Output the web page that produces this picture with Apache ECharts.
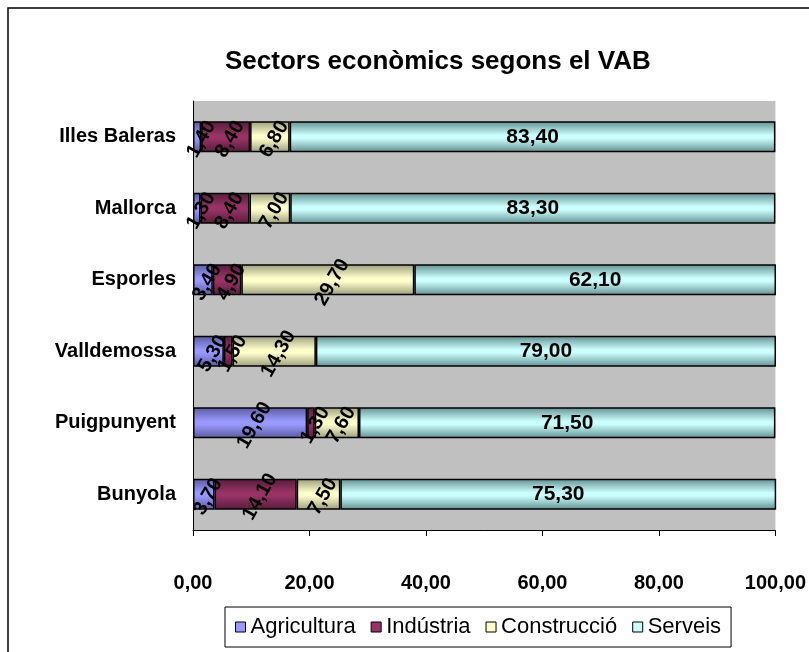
<!DOCTYPE html>
<html>
<head>
<meta charset="utf-8">
<script src="https://cdn.jsdelivr.net/npm/echarts@6/dist/echarts.min.js"></script>
<style>
  html, body { margin: 0; padding: 0; background: #fff; }
  #chart { width: 809px; height: 652px; }
</style>
</head>
<body>
<div id="chart"></div>
<script>
// values (percent of VAB)
var categories = ['Illes Baleras', 'Mallorca', 'Esporles', 'Valldemossa', 'Puigpunyent', 'Bunyola'];
var seriesNames = ['Agricultura', 'Indústria', 'Construcció', 'Serveis'];
var agricultura = [1.4, 1.3, 3.4, 5.3, 19.6, 3.7];
var industria = [8.4, 8.4, 4.9, 1.5, 1.3, 14.1];
var construccio = [6.8, 7.0, 29.7, 14.3, 7.6, 7.5];
var serveis = [83.4, 83.3, 62.1, 79.0, 71.5, 75.3];
var xMin = 0, xMax = 100, xStep = 20;

var FONT = "'Liberation Sans', Arial, sans-serif";

function fmt(v) {
  return Number(v).toFixed(2).replace('.', ',');
}

// excel-ish shading: darker at top and bottom edge of each bar
function cylinder(light, dark) {
  return {
    type: 'linear', x: 0, y: 0, x2: 0, y2: 1,
    colorStops: [
      { offset: 0, color: dark },
      { offset: 0.45, color: light },
      { offset: 0.55, color: light },
      { offset: 1, color: dark }
    ]
  };
}

var baseColors = ['#9999FF', '#993366', '#FFFFCC', '#CCFFFF'];
var darkColors = ['#5a5a9e', '#561c3a', '#9c9c7c', '#628f8f'];
var values = [agricultura, industria, construccio, serveis];

var myChart = echarts.init(document.getElementById('chart'));

var series = values.map(function (data, i) {
  var last = i === values.length - 1;
  return {
    name: seriesNames[i],
    type: 'bar',
    stack: 'total',
    barWidth: 31,
    data: data,
    itemStyle: {
      color: cylinder(baseColors[i], darkColors[i]),
      borderColor: '#000',
      borderWidth: 1.5
    },
    label: {
      show: true,
      position: 'inside',
      rotate: last ? 0 : 60,
      offset: last ? [0, 0] : [0, 5],
      color: '#000',
      fontFamily: FONT,
      fontWeight: 'bold',
      fontSize: last ? 21 : 20,
      formatter: function (p) { return fmt(p.value); }
    }
  };
});

var option = {
  backgroundColor: '#fff',
  animation: false,
  title: {
    text: 'Sectors econòmics segons el VAB',
    left: 220,
    top: 44,
    textStyle: {
      color: '#000',
      fontFamily: FONT,
      fontWeight: 'bold',
      fontSize: 26
    }
  },
  legend: {
    left: 225,
    top: 607,
    padding: [9, 10],
    itemGap: 15,
    itemWidth: 10,
    itemHeight: 10,
    borderColor: '#000',
    borderWidth: 1,
    icon: 'rect',
    textStyle: { color: '#000', fontFamily: FONT, fontSize: 22 },
    data: seriesNames.map(function (n, i) {
      return { name: n, itemStyle: { color: baseColors[i], borderColor: '#000', borderWidth: 1 } };
    })
  },
  grid: {
    left: 193,
    right: 32,
    top: 101,
    bottom: 122,
    show: true,
    backgroundColor: '#C0C0C0',
    borderWidth: 0
  },
  xAxis: {
    type: 'value',
    min: xMin,
    max: xMax,
    interval: xStep,
    axisLine: { show: true, lineStyle: { color: '#000', width: 1 } },
    axisTick: { show: true, length: 6, lineStyle: { color: '#000' } },
    splitLine: { show: false },
    axisLabel: {
      margin: 43,
      color: '#000',
      fontFamily: FONT,
      fontWeight: 'bold',
      fontSize: 20,
      formatter: fmt
    }
  },
  yAxis: {
    type: 'category',
    inverse: true,
    data: categories,
    axisLine: { show: true, lineStyle: { color: '#000', width: 1 } },
    axisTick: { show: false },
    axisLabel: {
      margin: 17,
      color: '#000',
      fontFamily: FONT,
      fontWeight: 'bold',
      fontSize: 20
    }
  },
  graphic: [{
    type: 'rect',
    z: -10,
    shape: { x: 8, y: 8, width: 830, height: 700 },
    style: { fill: 'none', stroke: '#000', lineWidth: 1.5 }
  }],
  series: series
};

myChart.setOption(option);
</script>
</body>
</html>
